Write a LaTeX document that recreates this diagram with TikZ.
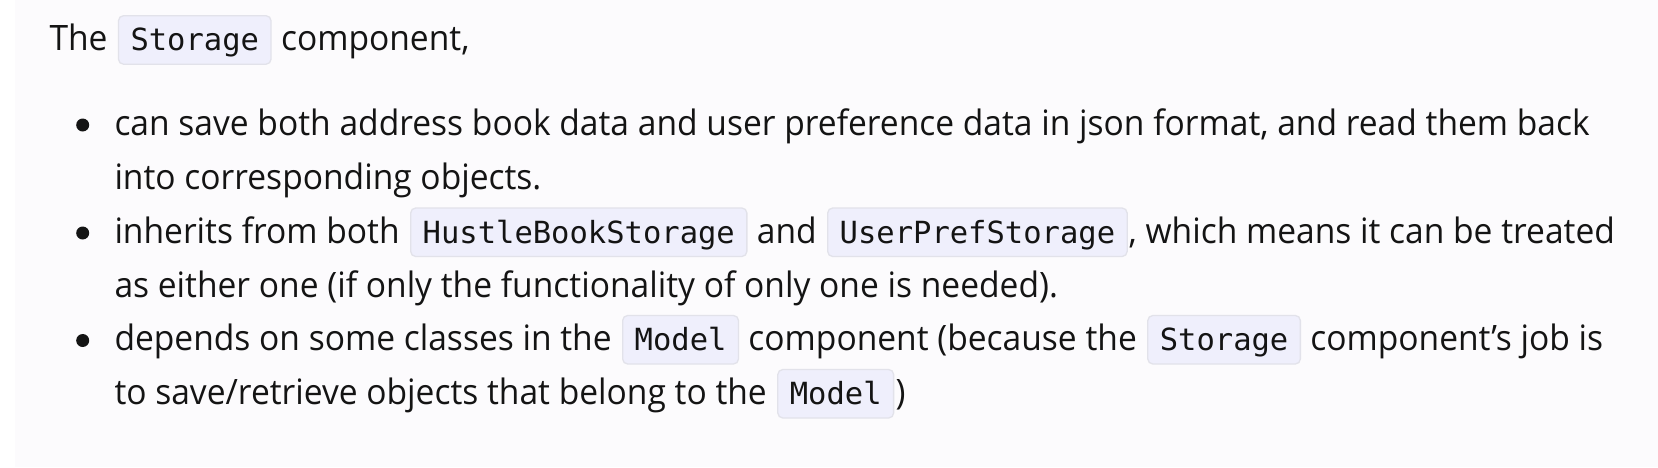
\documentclass[tikz,border=0pt]{standalone}
\usepackage{fontspec}
\newfontfamily\bodyfamily{Open Sans}[FakeStretch=0.959]
\newfontfamily\codefamily{DejaVu Sans Mono}
\definecolor{ink}{RGB}{20,20,20}
\definecolor{pagebg}{RGB}{252,251,253}
\definecolor{codebg}{RGB}{239,239,252}
\definecolor{codeline}{RGB}{226,226,234}
\begin{document}
\begin{tikzpicture}[x=1pt,y=-1pt,
  txt/.style={anchor=base west, inner sep=0pt, outer sep=0pt, text=ink,
    font=\bodyfamily\fontsize{35}{42}\selectfont},
  code/.style={anchor=base west, outer sep=0pt, fill=codebg, draw=codeline,
    line width=1.3pt, rounded corners=5pt, inner xsep=12pt, inner ysep=0pt,
    text height=35pt, text depth=13.5pt, text=ink,
    font=\codefamily\fontsize{30.5}{36}\selectfont},
  bullet/.style={circle, fill=ink, inner sep=0pt, minimum size=13pt}]
\useasboundingbox (0,0) rectangle (1658,467);
\fill[white] (0,0) rectangle (1658,467);
\fill[pagebg] (15,0) rectangle (1658,467);

% heading
\node[txt] (h1) at (49.5,50.7) {The};
\node[code] (h2) at ([xshift=11pt]h1.base east) {Storage};
\node[txt] (h3) at ([xshift=10pt]h2.base east) {component,};

% bullets
\node[bullet] (b1) at (82.7,125) {};
\node[bullet] (b2) at (82.7,233) {};
\node[bullet] (b3) at (82.7,340.5) {};

% item 1
\node[txt] (a1) at (114.5,135) {can save both address book data and user preference data in json format, and read them back};
\node[txt] (a2) at (114.5,189) {into corresponding objects.};

% item 2
\node[txt] (c1) at (114.5,243) {inherits from both};
\node[code] (c2) at ([xshift=11pt]c1.base east) {HustleBookStorage};
\node[txt] (c3) at ([xshift=10pt]c2.base east) {and};
\node[code] (c4) at ([xshift=11pt]c3.base east) {UserPrefStorage};
\node[txt] (c5) at ([xshift=1.5pt]c4.base east) {, which means it can be treated};
\node[txt] (c6) at (114.5,297) {as either one (if only the functionality of only one is needed).};

% item 3
\node[txt] (d1) at (114.5,350.5) {depends on some classes in the};
\node[code] (d2) at ([xshift=11pt]d1.base east) {Model};
\node[txt] (d3) at ([xshift=10pt]d2.base east) {component (because the};
\node[code] (d4) at ([xshift=11pt]d3.base east) {Storage};
\node[txt] (d5) at ([xshift=10pt]d4.base east) {component’s job is};
\node[txt] (d6) at (114.5,404.5) {to save/retrieve objects that belong to the};
\node[code] (d7) at ([xshift=11pt]d6.base east) {Model};
\node[txt] (d8) at ([xshift=2pt]d7.base east) {)};
\end{tikzpicture}
\end{document}
